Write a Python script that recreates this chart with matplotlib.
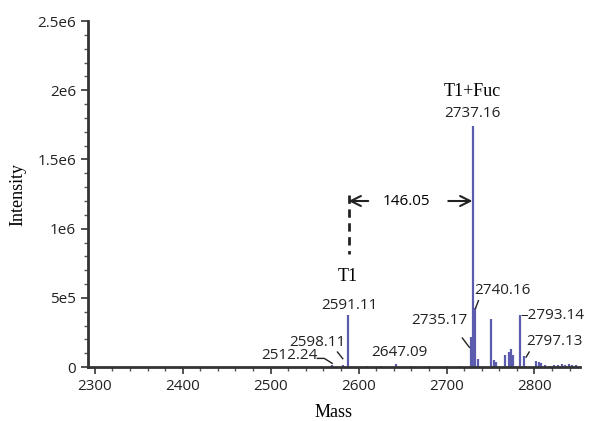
import numpy as np
import matplotlib
matplotlib.use("Agg")
import matplotlib.pyplot as plt

# peak list (mass, intensity)
masses = [2569.5, 2582.5, 2587.4, 2610, 2625, 2642.8, 2660, 2680, 2700, 2715,
          2727.9, 2730.2, 2732.8, 2736, 2751, 2753.5, 2756, 2767, 2770.7, 2773.4,
          2775.7, 2784, 2788.6, 2802, 2804.9, 2807.5, 2812, 2818, 2822, 2827,
          2831, 2835, 2839, 2843, 2847]
intensity = [1.5e4, 1.5e4, 3.75e5, 1.0e4, 8e3, 2.5e4, 1.0e4, 8e3, 1.0e4, 8e3,
             2.2e5, 1.745e6, 4.25e5, 6e4, 3.5e5, 5e4, 4e4, 8.5e4, 1.1e5, 1.3e5,
             9e4, 3.75e5, 8e4, 4.5e4, 4e4, 3e4, 1.5e4, 1e4, 1.5e4, 1.2e4,
             2e4, 1.5e4, 2.2e4, 1.2e4, 1.8e4]

xticks = [2300, 2400, 2500, 2600, 2700, 2800]
yticks = [0, 5e5, 1e6, 1.5e6, 2e6, 2.5e6]
ytick_labels = ["0", "5e5", "1e6", "1.5e6", "2e6", "2.5e6"]

# peak labels: text, x, y, alignment
peak_labels = [
    ("2737.16", 2729.5, 1.83e6, "center"),
    ("2591.11", 2590, 4.47e5, "center"),
    ("2740.16", 2763.6, 5.56e5, "center"),
    ("2735.17", 2724, 3.38e5, "right"),
    ("\u20132793.14", 2784, 3.75e5, "left"),
    ("2797.13", 2791, 1.88e5, "left"),
    ("2647.09", 2646.5, 1.09e5, "center"),
    ("2598.11", 2553, 1.81e5, "center"),
    ("2512.24", 2521.5, 8.5e4, "center"),
]
leaders = [
    ([2733, 2736.3], [4.25e5, 4.8e5]),
    ([2718, 2726], [2.1e5, 1.43e5]),
    ([2794, 2790.5], [1.09e5, 7.2e4]),
    ([2576, 2582], [1.09e5, 6.1e4]),
    ([2553, 2561, 2570], [6.3e4, 6.3e4, 2.7e4]),
]

sans = "Open Sans"
serif = "Liberation Serif"
dark = "#333333"

fig = plt.figure(figsize=(5.89, 4.21), dpi=100)
ax = fig.add_axes([0.149, 0.128, 0.836, 0.822])

ax.vlines(masses, 0, intensity, color="#5c5cae", linewidth=1.6)

ax.set_xlim(2292, 2852)
ax.set_ylim(0, 2.5e6)
ax.set_xticks(xticks)
ax.set_xticks(np.arange(2300, 2852, 20), minor=True)
ax.set_yticks(yticks)
ax.set_yticklabels(ytick_labels)
ax.set_yticks(np.arange(0, 2.5e6 + 1, 1e5), minor=True)

for s in ["top", "right"]:
    ax.spines[s].set_visible(False)
for s in ["left", "bottom"]:
    ax.spines[s].set_color(dark)
    ax.spines[s].set_linewidth(2)

ax.tick_params(which="major", direction="out", length=5, width=1.2, color=dark,
               labelsize=11, labelcolor="#222222")
ax.tick_params(which="minor", direction="out", length=3, width=1, color="#555555")
for lab in ax.get_xticklabels() + ax.get_yticklabels():
    lab.set_family(sans)

ax.set_xlabel("Mass", family=serif, fontsize=13, labelpad=7)
ax.set_ylabel("Intensity", family=serif, fontsize=13, labelpad=8)

for txt, x, y, ha in peak_labels:
    ax.text(x, y, txt, family=sans, fontsize=11, ha=ha, va="center", color="#222222")
for lx, ly in leaders:
    ax.plot(lx, ly, color="#222222", linewidth=1)

ax.text(2729.5, 1.99e6, "T1+Fuc", family=serif, fontsize=13, ha="center", va="center")
ax.text(2587.5, 6.52e5, "T1", family=serif, fontsize=13, ha="center", va="center")
ax.text(2654, 1.196e6, "146.05", family=sans, fontsize=11, ha="center", va="center")

# mass difference arrows
ax.annotate("", xy=(2588.6, 1.2e6), xytext=(2611, 1.2e6),
            arrowprops=dict(arrowstyle="->", color="#222222", lw=1.5, mutation_scale=18,
                            shrinkA=0, shrinkB=0))
ax.annotate("", xy=(2729.5, 1.2e6), xytext=(2702, 1.2e6),
            arrowprops=dict(arrowstyle="->", color="#222222", lw=1.5, mutation_scale=18,
                            shrinkA=0, shrinkB=0))
ax.plot([2588.6, 2588.6], [1.24e6, 8.2e5], color="#222222", linewidth=2, linestyle=(0, (3, 2)))

fig.savefig("out.png", dpi=100)
